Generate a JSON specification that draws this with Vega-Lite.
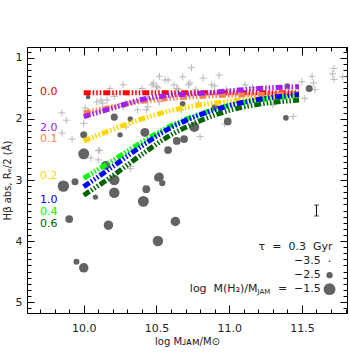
{
  "$schema": "https://vega.github.io/schema/vega-lite/v6.json",
  "width": 320,
  "height": 266,
  "autosize": {"type": "none"},
  "padding": {"left": 27, "top": 47, "right": 3, "bottom": 47},
  "background": "white",
  "config": {
    "view": {"stroke": "#000", "strokeWidth": 1},
    "axis": {
      "domainColor": "#000", "tickColor": "#000", "grid": false,
      "labelFont": "DejaVu Sans", "labelFontSize": 11, "labelColor": "#222",
      "titleFont": "DejaVu Sans", "titleFontSize": 10, "titleFontWeight": "normal", "titleColor": "#222",
      "domainWidth": 1, "tickWidth": 1
    },
    "text": {"font": "DejaVu Sans"}
  },
  "datasets": {
    "crosses": [
      {"x":9.85,"y":1.90},{"x":9.88,"y":2.02},{"x":9.92,"y":2.33},{"x":9.85,"y":2.23},{"x":10.01,"y":1.82},
      {"x":10.03,"y":1.93},{"x":10.10,"y":2.67},{"x":10.18,"y":1.50},{"x":10.27,"y":1.44},{"x":10.12,"y":1.69},
      {"x":10.16,"y":1.69},{"x":10.21,"y":1.63},{"x":10.27,"y":1.80},{"x":10.34,"y":1.72},{"x":10.39,"y":1.69},
      {"x":10.44,"y":1.66},{"x":10.48,"y":1.41},{"x":10.52,"y":1.30},{"x":10.56,"y":1.36},{"x":10.62,"y":1.44},
      {"x":10.50,"y":1.47},{"x":10.43,"y":1.85},{"x":10.29,"y":2.13},{"x":10.40,"y":1.50},{"x":10.47,"y":1.44},
      {"x":10.51,"y":1.49},{"x":10.58,"y":1.36},{"x":10.64,"y":1.50},{"x":10.72,"y":1.44},{"x":10.82,"y":1.33},
      {"x":10.88,"y":1.44},{"x":10.09,"y":1.72},{"x":10.13,"y":1.74},{"x":10.29,"y":1.74},{"x":10.37,"y":1.85},
      {"x":10.44,"y":1.80},{"x":10.52,"y":1.72},{"x":10.00,"y":2.07},{"x":10.03,"y":1.88},{"x":10.11,"y":2.51},
      {"x":10.32,"y":2.78},{"x":10.67,"y":1.85},{"x":10.79,"y":1.74},{"x":10.74,"y":1.16},{"x":10.68,"y":1.31},
      {"x":10.93,"y":1.28},{"x":10.73,"y":1.41},{"x":10.65,"y":1.51},{"x":10.77,"y":1.52},{"x":11.11,"y":1.44},
      {"x":11.16,"y":1.48},{"x":10.98,"y":1.52},{"x":11.50,"y":1.39},{"x":11.57,"y":1.30},{"x":11.58,"y":1.41},
      {"x":11.59,"y":1.52},{"x":11.41,"y":1.51},{"x":11.52,"y":1.66},{"x":11.44,"y":1.96},{"x":11.72,"y":1.17},
      {"x":11.71,"y":1.26},{"x":11.78,"y":1.31},{"x":11.72,"y":1.35},{"x":11.30,"y":1.77},{"x":10.97,"y":2.08},
      {"x":10.80,"y":2.29},{"x":10.90,"y":1.46},{"x":10.05,"y":2.64},{"x":10.10,"y":2.52},{"x":10.32,"y":2.81},
      {"x":10.02,"y":2.95}
    ],
    "circles": [
      {"x":10.03,"y":1.64,"m":-3.0},{"x":10.21,"y":1.97,"m":-2.4},{"x":10.32,"y":2.00,"m":-2.8},
      {"x":10.00,"y":2.26,"m":-2.4},{"x":10.25,"y":2.26,"m":-2.8},{"x":10.42,"y":2.22,"m":-2.1},
      {"x":10.00,"y":2.57,"m":-1.7},{"x":10.15,"y":2.76,"m":-2.1},{"x":10.52,"y":2.95,"m":-2.1},
      {"x":9.86,"y":3.10,"m":-1.6},{"x":9.94,"y":3.03,"m":-2.4},{"x":10.08,"y":3.28,"m":-2.8},
      {"x":10.21,"y":3.00,"m":-1.8},{"x":10.21,"y":3.21,"m":-1.8},{"x":10.43,"y":3.15,"m":-2.3},
      {"x":10.41,"y":3.35,"m":-1.7},{"x":10.51,"y":2.96,"m":-2.3},{"x":10.54,"y":3.05,"m":-2.5},
      {"x":10.58,"y":2.51,"m":-2.3},{"x":9.90,"y":3.64,"m":-2.3},{"x":10.17,"y":3.74,"m":-2.0},
      {"x":10.63,"y":3.68,"m":-2.0},{"x":10.51,"y":4.00,"m":-1.8},{"x":9.95,"y":4.34,"m":-2.6},
      {"x":10.00,"y":4.44,"m":-2.0},{"x":11.55,"y":1.50,"m":-2.4},{"x":10.68,"y":1.75,"m":-2.7},
      {"x":10.90,"y":1.81,"m":-2.5},{"x":10.99,"y":2.04,"m":-2.3},{"x":11.39,"y":1.98,"m":-2.7},
      {"x":10.76,"y":2.13,"m":-1.9},{"x":10.64,"y":2.36,"m":-2.3},{"x":10.69,"y":2.33,"m":-2.3},
      {"x":11.40,"y":1.46,"m":-2.8}
    ],
    "lines": [
      {"s":"0.0","x":10.0,"y":1.57},{"s":"0.0","x":10.4,"y":1.57},{"s":"0.0","x":10.8,"y":1.57},{"s":"0.0","x":11.2,"y":1.57},{"s":"0.0","x":11.48,"y":1.57},
      {"s":"0.1","x":10.0,"y":1.90},{"s":"0.1","x":10.2,"y":1.80},{"s":"0.1","x":10.4,"y":1.71},{"s":"0.1","x":10.6,"y":1.66},{"s":"0.1","x":10.8,"y":1.63},{"s":"0.1","x":11.0,"y":1.61},{"s":"0.1","x":11.2,"y":1.60},{"s":"0.1","x":11.48,"y":1.58},
      {"s":"0.2","x":10.0,"y":2.36},{"s":"0.2","x":10.2,"y":2.17},{"s":"0.2","x":10.4,"y":2.00},{"s":"0.2","x":10.6,"y":1.86},{"s":"0.2","x":10.8,"y":1.77},{"s":"0.2","x":11.0,"y":1.71},{"s":"0.2","x":11.2,"y":1.67},{"s":"0.2","x":11.48,"y":1.63},
      {"s":"0.6","x":10.0,"y":3.25},{"s":"0.6","x":10.2,"y":2.93},{"s":"0.6","x":10.4,"y":2.58},{"s":"0.6","x":10.6,"y":2.26},{"s":"0.6","x":10.8,"y":2.03},{"s":"0.6","x":11.0,"y":1.86},{"s":"0.6","x":11.2,"y":1.76},{"s":"0.6","x":11.48,"y":1.69},
      {"s":"0.4","x":10.0,"y":2.97},{"s":"0.4","x":10.2,"y":2.68},{"s":"0.4","x":10.4,"y":2.38},{"s":"0.4","x":10.6,"y":2.11},{"s":"0.4","x":10.8,"y":1.92},{"s":"0.4","x":11.0,"y":1.78},{"s":"0.4","x":11.2,"y":1.69},{"s":"0.4","x":11.48,"y":1.62},
      {"s":"1.0","x":10.0,"y":3.11},{"s":"1.0","x":10.2,"y":2.78},{"s":"1.0","x":10.4,"y":2.44},{"s":"1.0","x":10.6,"y":2.14},{"s":"1.0","x":10.8,"y":1.93},{"s":"1.0","x":11.0,"y":1.78},{"s":"1.0","x":11.2,"y":1.68},{"s":"1.0","x":11.48,"y":1.60},
      {"s":"2.0","x":10.0,"y":1.96},{"s":"2.0","x":10.2,"y":1.82},{"s":"2.0","x":10.4,"y":1.68},{"s":"2.0","x":10.6,"y":1.61},{"s":"2.0","x":10.8,"y":1.58},{"s":"2.0","x":11.0,"y":1.54},{"s":"2.0","x":11.2,"y":1.50},{"s":"2.0","x":11.48,"y":1.47}
    ],
    "linelabels": [
      {"s":"0.0","x":9.70,"y":1.56},{"s":"2.0","x":9.70,"y":2.14},{"s":"0.1","x":9.70,"y":2.33},
      {"s":"0.2","x":9.70,"y":2.93},{"s":"1.0","x":9.70,"y":3.33},{"s":"0.4","x":9.70,"y":3.52},{"s":"0.6","x":9.70,"y":3.72}
    ],
    "errbar": [{"x":11.6,"y":3.41,"y2":3.59}],
    "errends": [{"x":11.6,"y":3.41},{"x":11.6,"y":3.59}],
    "tau": [{"x":11.71,"y":4.09,"t":"τ\u00a0 =\u00a0 0.3\u00a0 Gyr"}],
    "legtext": [{"x":11.63,"y":4.33,"t":"−3.5"},{"x":11.63,"y":4.56,"t":"−2.5"},{"x":11.63,"y":4.79,"t":"=\u00a0 −1.5"}],
    "legmain": [{"x":11.195,"y":4.79,"t":"log\u00a0 M(H₂)/M"}],
    "legsub": [{"x":11.195,"y":4.79,"t":"JAM"}],
    "legcircles": [{"x":11.69,"y":4.33,"m":-3.5},{"x":11.69,"y":4.56,"m":-2.5},{"x":11.69,"y":4.79,"m":-1.5}]
  },
  "layer": [
    {
      "data": {"name": "crosses"},
      "mark": {"type": "point", "shape": "M-1,0L1,0M0,-1L0,1", "filled": false, "stroke": "#b8b8b8", "strokeWidth": 1, "size": 49, "opacity": 1},
      "encoding": {
        "x": {"field": "x", "type": "quantitative", "scale": {"domain": [9.61, 11.81], "nice": false, "zero": false},
          "axis": {"orient": "bottom", "values": [10, 10.5, 11, 11.5], "format": ".1f", "tickSize": -8, "labelPadding": 17, "title": "log Mᴊᴀᴍ/M⊙", "titlePadding": 3}},
        "y": {"field": "y", "type": "quantitative", "scale": {"domain": [0.82, 5.18], "reverse": true, "nice": false, "zero": false},
          "axis": {"orient": "left", "values": [1, 2, 3, 4, 5], "format": "d", "tickSize": -7, "labelPadding": 12, "title": "Hβ abs, Rₑ/2 (Å)", "titlePadding": 3}}
      }
    },
    {
      "data": {"name": "circles"},
      "mark": {"type": "circle", "color": "#636363", "opacity": 1},
      "encoding": {
        "x": {"field": "x", "type": "quantitative",
          "axis": {"orient": "bottom", "values": [9.7,9.8,9.9,10.1,10.2,10.3,10.4,10.6,10.7,10.8,10.9,11.1,11.2,11.3,11.4,11.6,11.7,11.8], "labels": false, "tickSize": -4, "title": null, "domain": false}},
        "y": {"field": "y", "type": "quantitative",
          "axis": {"orient": "left", "values": [0.9,1.1,1.2,1.3,1.4,1.5,1.6,1.7,1.8,1.9,2.1,2.2,2.3,2.4,2.5,2.6,2.7,2.8,2.9,3.1,3.2,3.3,3.4,3.5,3.6,3.7,3.8,3.9,4.1,4.2,4.3,4.4,4.5,4.6,4.7,4.8,4.9,5.1], "labels": false, "tickSize": -4, "title": null, "domain": false}},
        "size": {"field": "m", "type": "quantitative", "scale": {"domain": [-3.5, -2.5, -1.5], "range": [3, 40, 140]}, "legend": null}
      }
    },
    {
      "data": {"name": "lines"},
      "mark": {"type": "line", "strokeWidth": 5, "strokeDash": [7, 2, 1.5, 2, 1.5, 2, 1.5, 2], "interpolate": "monotone"},
      "encoding": {
        "x": {"field": "x", "type": "quantitative",
          "axis": {"orient": "top", "values": [10, 10.5, 11, 11.5], "labels": false, "tickSize": -8, "title": null}},
        "y": {"field": "y", "type": "quantitative",
          "axis": {"orient": "right", "values": [1, 2, 3, 4, 5], "labels": false, "tickSize": -7, "title": null}},
        "color": {"field": "s", "type": "nominal",
          "scale": {"domain": ["0.0", "0.1", "0.2", "0.4", "0.6", "1.0", "2.0"], "range": ["#ff0000", "#ff7f50", "#ffd700", "#00ff00", "#006400", "#0000ff", "#a020f0"]},
          "legend": null},
        "order": {"field": "x", "type": "quantitative"}
      }
    },
    {
      "data": {"name": "linelabels"},
      "mark": {"type": "text", "align": "left", "baseline": "middle", "fontSize": 11},
      "encoding": {
        "x": {"field": "x", "type": "quantitative",
          "axis": {"orient": "top", "values": [9.7,9.8,9.9,10.1,10.2,10.3,10.4,10.6,10.7,10.8,10.9,11.1,11.2,11.3,11.4,11.6,11.7,11.8], "labels": false, "tickSize": -4, "title": null, "domain": false}},
        "y": {"field": "y", "type": "quantitative",
          "axis": {"orient": "right", "values": [0.9,1.1,1.2,1.3,1.4,1.5,1.6,1.7,1.8,1.9,2.1,2.2,2.3,2.4,2.5,2.6,2.7,2.8,2.9,3.1,3.2,3.3,3.4,3.5,3.6,3.7,3.8,3.9,4.1,4.2,4.3,4.4,4.5,4.6,4.7,4.8,4.9,5.1], "labels": false, "tickSize": -4, "title": null, "domain": false}},
        "text": {"field": "s"},
        "color": {"field": "s", "type": "nominal", "legend": null}
      }
    },
    {
      "data": {"name": "errbar"},
      "mark": {"type": "rule", "color": "#000", "strokeWidth": 1},
      "encoding": {
        "x": {"field": "x", "type": "quantitative", "axis": null},
        "y": {"field": "y", "type": "quantitative", "axis": null},
        "y2": {"field": "y2"}
      }
    },
    {
      "data": {"name": "errends"},
      "mark": {"type": "tick", "orient": "horizontal", "color": "#000", "size": 5, "thickness": 1},
      "encoding": {
        "x": {"field": "x", "type": "quantitative", "axis": null},
        "y": {"field": "y", "type": "quantitative", "axis": null}
      }
    },
    {
      "data": {"name": "tau"},
      "mark": {"type": "text", "align": "right", "baseline": "middle", "fontSize": 11, "color": "#222"},
      "encoding": {
        "x": {"field": "x", "type": "quantitative", "axis": null},
        "y": {"field": "y", "type": "quantitative", "axis": null},
        "text": {"field": "t"}
      }
    },
    {
      "data": {"name": "legtext"},
      "mark": {"type": "text", "align": "right", "baseline": "middle", "fontSize": 11, "color": "#222"},
      "encoding": {
        "x": {"field": "x", "type": "quantitative", "axis": null},
        "y": {"field": "y", "type": "quantitative", "axis": null},
        "text": {"field": "t"}
      }
    },
    {
      "data": {"name": "legmain"},
      "mark": {"type": "text", "align": "right", "baseline": "middle", "fontSize": 11, "color": "#222"},
      "encoding": {
        "x": {"field": "x", "type": "quantitative", "axis": null},
        "y": {"field": "y", "type": "quantitative", "axis": null},
        "text": {"field": "t"}
      }
    },
    {
      "data": {"name": "legsub"},
      "mark": {"type": "text", "align": "left", "baseline": "middle", "fontSize": 7, "dy": 3, "color": "#222"},
      "encoding": {
        "x": {"field": "x", "type": "quantitative", "axis": null},
        "y": {"field": "y", "type": "quantitative", "axis": null},
        "text": {"field": "t"}
      }
    },
    {
      "data": {"name": "legcircles"},
      "mark": {"type": "circle", "color": "#636363", "opacity": 1},
      "encoding": {
        "x": {"field": "x", "type": "quantitative", "axis": null},
        "y": {"field": "y", "type": "quantitative", "axis": null},
        "size": {"field": "m", "type": "quantitative", "legend": null}
      }
    }
  ],
  "resolve": {"axis": {"x": "independent", "y": "independent"}}
}
